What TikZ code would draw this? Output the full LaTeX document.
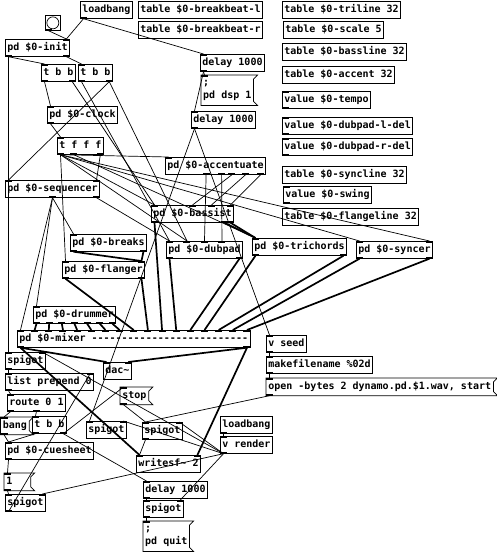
\documentclass[tikz,border=0pt]{standalone}
\usepackage{fontspec}
\setmonofont{DejaVu Sans Mono}
\usetikzlibrary{calc}

\tikzset{
  obj/.style={draw, line width=0.7pt, anchor=north west, inner xsep=2pt, inner ysep=0pt,
    minimum height=17pt, text height=8pt, text depth=2.5pt},
  msg/.style={obj, draw=none},
  msgtwo/.style={anchor=north west, inner xsep=2pt, inner ysep=2pt, align=left,
    minimum height=30pt, font=\ttfamily\bfseries\fontsize{10}{13}\selectfont},
  ctl/.style={line width=0.7pt},
  sig/.style={line width=1.7pt},
}

% outlet (frac along bottom) -> inlet (frac along top)
\newcommand{\wire}[5][ctl]{%
  \coordinate (wa) at ($([xshift=3.5pt]#2.south west)!#3!([xshift=-3.5pt]#2.south east)$);
  \coordinate (wb) at ($([xshift=3.5pt]#4.north west)!#5!([xshift=-3.5pt]#4.north east)$);
  \fill (wa) ++(-3.5,0) rectangle ++(7,-2);
  \fill (wb) ++(-3.5,0) rectangle ++(7,2);
  \draw[#1] (wa) -- (wb);}

\begin{document}
\begin{tikzpicture}[x=1pt,y=-1pt,font=\ttfamily\bfseries\fontsize{10}{12}\selectfont]
\useasboundingbox (0,0) rectangle (496,552);

% top
\node[obj, minimum size=15pt, inner sep=0pt] (bng) at (45,15) {};
\draw[line width=0.7pt] (bng.center) circle (6);
\node[obj] (lb1) at (80,1) {loadbang};
\node[obj] (brkl) at (138,1) {table \$0-breakbeat-l};
\node[obj] (brkr) at (138,21) {table \$0-breakbeat-r};
\node[obj] (init) at (5,39) {pd \$0-init};
\node[obj] (tbbL) at (41,64) {t b b};
\node[obj] (tbbR) at (78,64) {t b b};
\node[obj] (del1) at (200,54) {delay 1000};
\node[msgtwo] (msgdsp) at (201,75) {;\\pd dsp 1};
\node[obj] (clock) at (47,106) {pd \$0-clock};
\node[obj] (del2) at (191,111) {delay 1000};
\node[obj] (tfff) at (57,137) {t f f f};

% tables and values
\node[obj] (triline) at (282,1) {table \$0-triline 32};
\node[obj] (scale) at (283,21) {table \$0-scale 5};
\node[obj] (bassline) at (282,43) {table \$0-bassline 32};
\node[obj] (accent) at (282,66) {table \$0-accent 32};
\node[obj] (tempo) at (282,91) {value \$0-tempo};
\node[obj] (dubl) at (282,117) {value \$0-dubpad-l-del};
\node[obj] (dubr) at (282,138) {value \$0-dubpad-r-del};
\node[obj] (syncline) at (282,166) {table \$0-syncline 32};
\node[obj] (swing) at (283,186) {value \$0-swing};
\node[obj] (flangeline) at (282,208) {table \$0-flangeline 32};

% voices
\node[obj] (accentuate) at (165,157) {pd \$0-accentuate};
\node[obj] (seq) at (5,180) {pd \$0-sequencer};
\node[obj] (bassist) at (151,205) {pd \$0-bassist};
\node[obj] (breaks) at (70,234) {pd \$0-breaks};
\node[obj] (dubpad) at (166,241) {pd \$0-dubpad};
\node[obj] (trichords) at (252,238) {pd \$0-trichords};
\node[obj] (syncer) at (356,241) {pd \$0-syncer};
\node[obj] (flanger) at (62,261) {pd \$0-flanger};
\node[obj] (drummer) at (33,306) {pd \$0-drummer};
\node[obj] (mixer) at (17,330) {pd \$0-mixer --------------------------};

% output and recording
\node[obj] (vseed) at (266,335) {v seed};
\node[obj] (mkfn) at (266,356) {makefilename \%02d};
\node[msg] (msgopen) at (266,378) {open -bytes 2 dynamo.pd.\$1.wav, start};
\node[obj] (spig1) at (5,352) {spigot};
\node[obj] (dac) at (103,362) {dac\textasciitilde};
\node[obj] (lpre) at (5,373) {list prepend 0};
\node[obj] (route) at (7,394) {route 0 1};
\node[msg] (msgstop) at (120,387) {stop};
\node[msg] (msgbang) at (0.5,417) {bang};
\node[obj] (tbb2) at (32,416) {t b b};
\node[obj] (spigM1) at (86,421) {spigot};
\node[obj] (spigM2) at (142,422) {spigot};
\node[obj] (lb2) at (220,416) {loadbang};
\node[obj] (vrender) at (220,436) {v render};
\node[obj] (cue) at (5,442) {pd \$0-cuesheet};
\node[obj] (wsf) at (136,455) {writesf\textasciitilde{} 2};
\node[msg, text width=22pt] (msgone) at (4,473) {1};
\node[obj] (spigBL) at (5,494) {spigot};
\node[obj] (del3) at (143,481) {delay 1000};
\node[obj] (spigB) at (143,500) {spigot};
\node[msgtwo] (msgquit) at (143,521) {;\\pd quit};

% message flags
\foreach \m in {msgdsp,msgopen,msgstop,msgbang,msgone,msgquit}
  \draw[line width=0.7pt] (\m.north west) -- ([xshift=4pt]\m.north east)
    -- ([yshift=-4pt]\m.north east) -- ([yshift=4pt]\m.south east)
    -- ([xshift=4pt]\m.south east) -- (\m.south west) -- cycle;
\foreach \v in {tempo,dubl,dubr,swing} {
  \fill (\v.north west) rectangle ++(7,2);
  \fill (\v.south west) rectangle ++(7,-2);
}

% control
\wire{lb1}{0}{init}{1}
\wire{bng}{0}{init}{1}
\wire{lb1}{0}{del1}{0}
\wire{init}{0}{tbbL}{0}
\wire{init}{1}{tbbR}{0}
\wire{init}{0}{spig1}{0}
\wire{tbbL}{0}{clock}{0}
\wire{tbbL}{1}{bassist}{0}
\wire{tbbR}{0}{dubpad}{0}
\wire{tbbR}{1}{seq}{0}
\wire{tbbR}{1}{dubpad}{0.25}
\wire{del1}{0}{msgdsp}{0}
\wire{del1}{0}{del2}{0}
\wire{clock}{0}{tfff}{0}
\wire{tfff}{0}{accentuate}{0}
\wire{tfff}{0}{bassist}{0}
\wire{tfff}{0}{dubpad}{0.25}
\wire{tfff}{0}{flanger}{0}
\wire{tfff}{0}{syncer}{0}
\wire{tfff}{0}{syncer}{1}
\wire{tfff}{0.333}{trichords}{0}
\wire{tfff}{1}{seq}{1}
\wire{seq}{0.5}{drummer}{0}
\wire{seq}{0.5}{mixer}{0}
\wire{seq}{0.5}{breaks}{0}
\wire{seq}{1}{dubpad}{0}
\wire{accentuate}{0.4}{dubpad}{0.5}
\wire{accentuate}{0.565}{dubpad}{0.75}
\wire{accentuate}{0.675}{bassist}{0.5}
\wire{accentuate}{0.82}{bassist}{0.75}
\wire{accentuate}{0.98}{bassist}{1}
\wire{del2}{0}{spigM1}{0}
\wire{del2}{0}{vseed}{0}
\wire{vseed}{0}{mkfn}{0}
\wire{mkfn}{0}{msgopen}{0}
\wire{msgopen}{0}{spigM2}{0}
\wire{spig1}{0}{lpre}{0}
\wire{lpre}{0}{route}{0}
\wire{route}{0}{msgbang}{0}
\wire{route}{0.5}{tbb2}{0}
\wire{msgbang}{0}{cue}{0}
\wire{tbb2}{0}{cue}{0}
\wire{tbb2}{1}{msgstop}{0}
\wire{tbb2}{1}{del3}{0}
\wire{msgstop}{0}{spigM2}{0}
\wire{spigM2}{0}{wsf}{0}
\wire{cue}{0}{msgone}{0}
\wire{msgone}{0}{spigBL}{0}
\wire{spigBL}{0}{lpre}{1}
\wire{del3}{0}{spigB}{0}
\wire{spigB}{0}{msgquit}{0}
\wire{lb2}{0}{vrender}{0}
\foreach \s in {spig1,spigM1,spigM2,spigB,spigBL} {
  \wire{vrender}{0}{\s}{1}
}

% audio
\foreach \k in {0,...,6} {
  \pgfmathsetmacro\fa{\k/6}
  \pgfmathsetmacro\fb{(\k+1)/16}
  \wire[sig]{drummer}{\fa}{mixer}{\fb}
}
\wire[sig]{breaks}{0}{flanger}{1}
\wire[sig]{breaks}{1}{flanger}{1}
\wire[sig]{flanger}{0}{mixer}{0.5}
\wire[sig]{flanger}{1}{mixer}{0.5625}
\wire[sig]{bassist}{0}{mixer}{0.625}
\wire[sig]{bassist}{0.92}{trichords}{0}
\wire[sig]{bassist}{1}{trichords}{0}
\wire[sig]{dubpad}{0}{mixer}{0.6875}
\wire[sig]{dubpad}{1}{mixer}{0.75}
\wire[sig]{trichords}{0}{mixer}{0.8125}
\wire[sig]{trichords}{1}{mixer}{0.875}
\wire[sig]{syncer}{0}{mixer}{0.9375}
\wire[sig]{syncer}{1}{mixer}{1}
\wire[sig]{mixer}{0}{dac}{0}
\wire[sig]{mixer}{1}{dac}{1}
\wire[sig]{mixer}{0}{wsf}{0}
\wire[sig]{mixer}{1}{wsf}{1}
\end{tikzpicture}
\end{document}
